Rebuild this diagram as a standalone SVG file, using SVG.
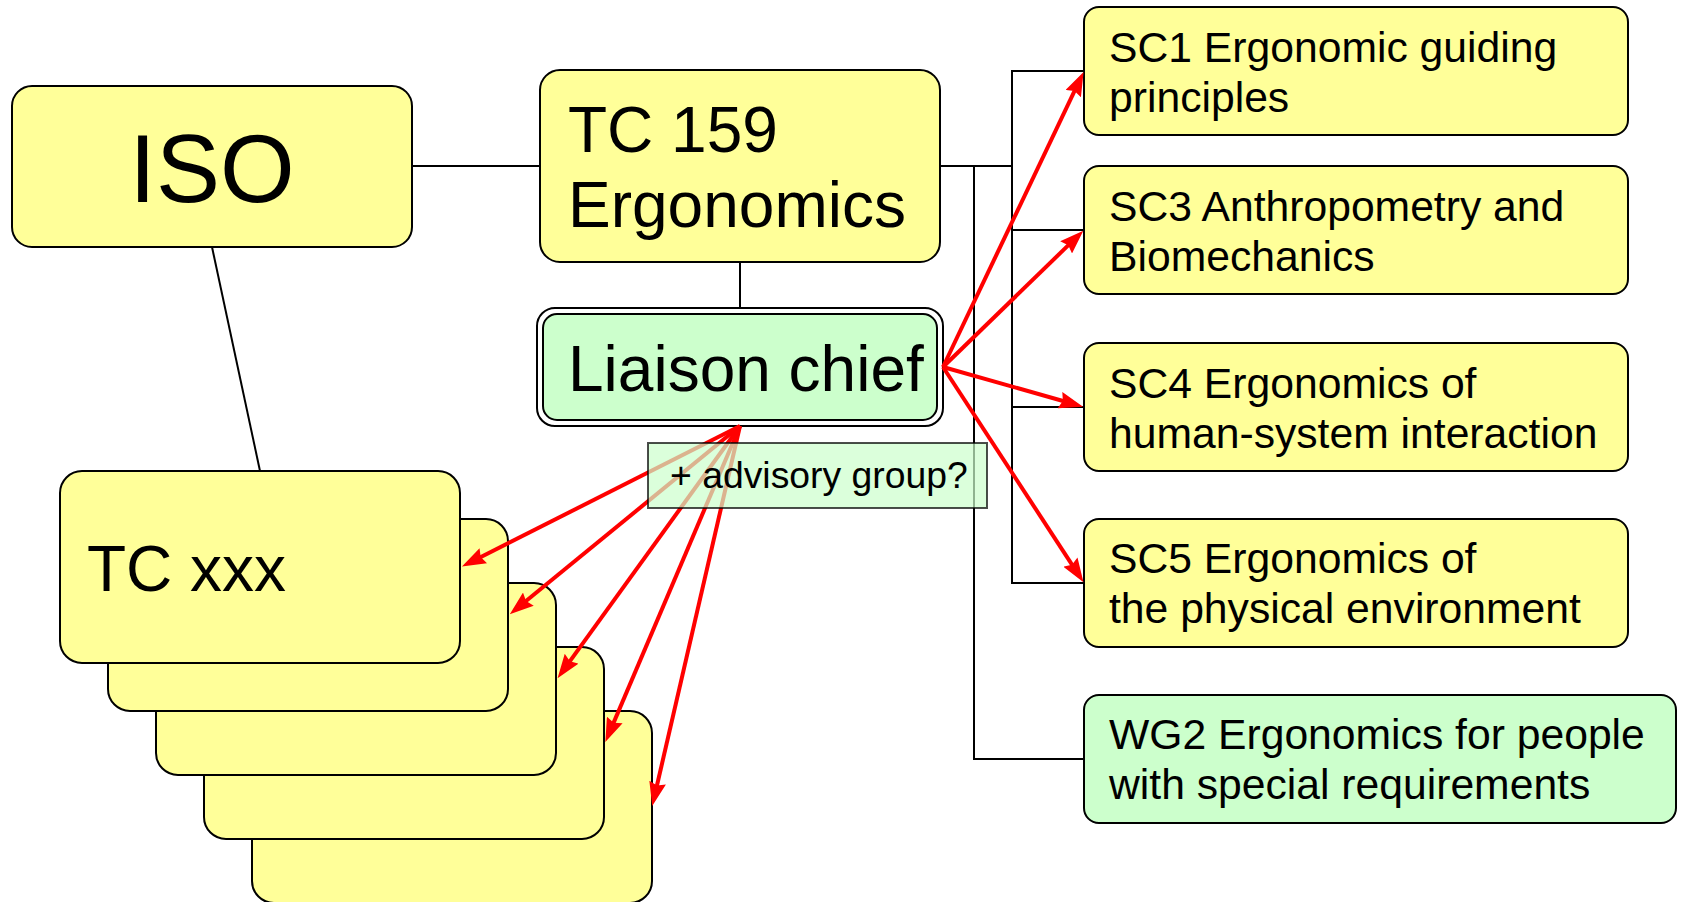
<svg xmlns="http://www.w3.org/2000/svg" width="1681" height="902" viewBox="0 0 1681 902">
<defs>
<style>
text{font-family:"Liberation Sans",Arial,Helvetica,sans-serif;fill:#000}
.y{fill:#ffff99;stroke:#000;stroke-width:2}
.g{fill:#ccffcc;stroke:#000;stroke-width:2}
.c{fill:none;stroke:#000;stroke-width:2}
.r{fill:none;stroke:#ff0000;stroke-width:4;marker-end:url(#ah)}
.big{font-size:64px}
.sc{font-size:42.67px}
</style>
<marker id="ah" markerUnits="userSpaceOnUse" viewBox="0 0 24 17" markerWidth="24" markerHeight="17" refX="5" refY="8.5" orient="auto">
<path d="M0,0 L24,8.5 L0,17 L3,8.5 z" fill="#ff0000"/>
</marker>
</defs>
<rect width="1681" height="902" fill="#fff"/>

<g id="connectors">
<line class="c" x1="412" y1="166" x2="540" y2="166"/>
<line class="c" x1="212" y1="247" x2="260" y2="471"/>
<line class="c" x1="740" y1="262" x2="740" y2="308"/>
<polyline class="c" points="940,166 1012,166"/>
<polyline class="c" points="1084,71 1012,71 1012,583 1084,583"/>
<line class="c" x1="1012" y1="230" x2="1084" y2="230"/>
<line class="c" x1="1012" y1="407" x2="1084" y2="407"/>
<polyline class="c" points="974,166 974,759 1084,759"/>
</g>

<g id="iso">
<rect class="y" x="12" y="86" width="400" height="161" rx="20"/>
<text x="212" y="202" font-size="96" text-anchor="middle">ISO</text>
</g>

<g id="tc159">
<rect class="y" x="540" y="70" width="400" height="192" rx="20"/>
<text class="big" x="568" y="152">TC 159</text>
<text class="big" x="568" y="227">Ergonomics</text>
</g>

<g id="liaison-chief">
<rect x="537" y="308" width="406" height="118" rx="18" fill="#fff" stroke="#000" stroke-width="2"/>
<rect class="g" x="543" y="314" width="394" height="106" rx="14"/>
<text class="big" x="568" y="391">Liaison chief</text>
</g>

<g id="tc-stack">
<rect class="y" x="252" y="711" width="400" height="192" rx="22"/>
<rect class="y" x="204" y="647" width="400" height="192" rx="22"/>
<rect class="y" x="156" y="583" width="400" height="192" rx="22"/>
<rect class="y" x="108" y="519" width="400" height="192" rx="22"/>
<g id="tcxxx">
<rect class="y" x="60" y="471" width="400" height="192" rx="22"/>
<text class="big" x="87" y="591">TC xxx</text>
</g>
</g>

<g id="sc1">
<rect class="y" x="1084" y="7" width="544" height="128" rx="15"/>
<text class="sc" x="1109" y="62">SC1 Ergonomic guiding</text>
<text class="sc" x="1109" y="112">principles</text>
</g>
<g id="sc3">
<rect class="y" x="1084" y="166" width="544" height="128" rx="15"/>
<text class="sc" x="1109" y="221">SC3 Anthropometry and</text>
<text class="sc" x="1109" y="271">Biomechanics</text>
</g>
<g id="sc4">
<rect class="y" x="1084" y="343" width="544" height="128" rx="15"/>
<text class="sc" x="1109" y="398">SC4 Ergonomics of</text>
<text class="sc" x="1109" y="448">human-system interaction</text>
</g>
<g id="sc5">
<rect class="y" x="1084" y="519" width="544" height="128" rx="15"/>
<text class="sc" x="1109" y="573">SC5 Ergonomics of</text>
<text class="sc" x="1109" y="623">the physical environment</text>
</g>
<g id="wg2">
<rect class="g" x="1084" y="695" width="592" height="128" rx="15"/>
<text class="sc" x="1109" y="749">WG2 Ergonomics for people</text>
<text class="sc" x="1109" y="799">with special requirements</text>
</g>

<g id="liaison-arrows">
<line class="r" x1="740" y1="426" x2="478.9" y2="558.0"/>
<line class="r" x1="740" y1="426" x2="524.5" y2="602.3"/>
<line class="r" x1="740" y1="426" x2="568.7" y2="662.8"/>
<line class="r" x1="740" y1="426" x2="612.8" y2="724.6"/>
<line class="r" x1="740" y1="426" x2="656.5" y2="787.5"/>
<line class="r" x1="943" y1="367" x2="1075.4" y2="89.1"/>
<line class="r" x1="943" y1="367" x2="1069.7" y2="243.9"/>
<line class="r" x1="943" y1="367" x2="1064.8" y2="401.5"/>
<line class="r" x1="943" y1="367" x2="1073.1" y2="566.3"/>
</g>

<g id="advisory-group">
<rect x="648" y="443" width="339" height="65" fill="#ccffcc" fill-opacity="0.7" stroke="#000" stroke-opacity="0.7" stroke-width="2"/>
<text x="670" y="488" font-size="37.33">+ advisory group?</text>
</g>
</svg>
